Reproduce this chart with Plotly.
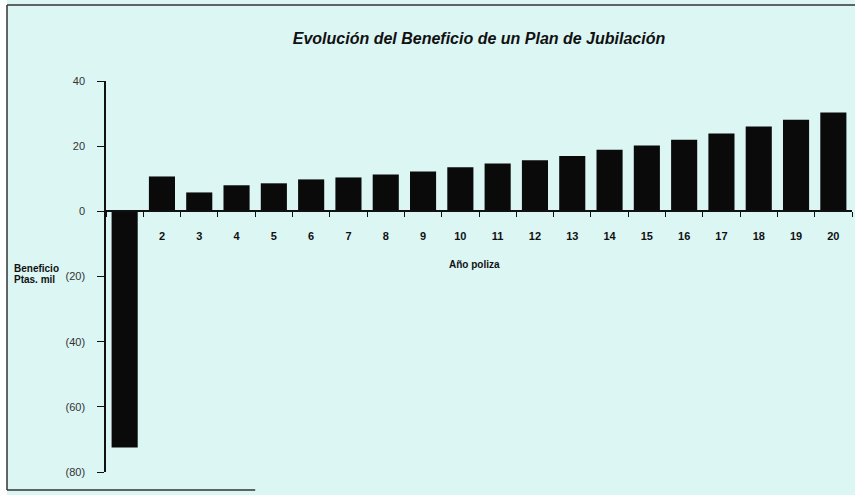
import plotly.graph_objects as go

years = list(range(1, 21))
beneficio = [-72.5, 10.7, 5.8, 8.0, 8.6, 9.8, 10.4, 11.3, 12.2, 13.5,
             14.7, 15.7, 17.0, 18.9, 20.2, 22.0, 23.9, 26.0, 28.1, 30.3]
x_tick_vals = list(range(2, 21))
x_tick_text = [str(v) for v in x_tick_vals]
y_tick_vals = [40, 20, 0, -20, -40, -60, -80]
y_tick_text = ["40", "20", "0", "(20)", "(40)", "(60)", "(80)"]

title_text = "Evolución del Beneficio de un Plan de Jubilación"
x_title = "Año poliza"
y_title_lines = ["Beneficio", "Ptas. mil"]

BG = "#dcf6f4"
FONT = "Liberation Sans"

y_min, y_max = -80, 40

fig = go.Figure()
fig.add_trace(go.Bar(
    x=years, y=beneficio, width=0.7,
    marker=dict(color="#0a0a0a", line=dict(width=0)),
    showlegend=False,
))

fig.update_layout(
    width=855, height=495,
    margin=dict(l=106, r=3, t=81, b=23),
    paper_bgcolor=BG, plot_bgcolor=BG,
    font=dict(family=FONT, color="#111"),
    title=dict(text="<b><i>" + title_text + "</i></b>", x=0.5, xref="paper",
               y=1 - 38 / 495, yanchor="middle",
               font=dict(family=FONT, size=16, color="#111")),
)

fig.update_xaxes(
    range=[0.5, 20.5], anchor="free",
    position=(0 - y_min) / (y_max - y_min),
    showline=True, linecolor="#111", linewidth=1.5,
    showgrid=False, zeroline=False,
    tickmode="array", tickvals=x_tick_vals, ticktext=x_tick_text,
    ticks="", ticklabelstandoff=15,
    tickfont=dict(family=FONT, size=11, color="#111", weight="bold"),
    minor=dict(tick0=0.5, dtick=1, ticks="outside", ticklen=5,
               tickcolor="#111", tickwidth=1.2, showgrid=False),
)

fig.update_yaxes(
    range=[y_min, y_max],
    showline=True, linecolor="#111", linewidth=1.5,
    showgrid=False, zeroline=False,
    tickmode="array", tickvals=y_tick_vals, ticktext=y_tick_text,
    ticks="outside", ticklen=7, tickcolor="#111", tickwidth=1.2,
    ticklabelstandoff=10,
    tickfont=dict(family=FONT, size=11, color="#333"),
)

fig.add_annotation(text="<b>" + x_title + "</b>", xref="paper", yref="paper",
                   x=(474 - 106) / 746, y=(472 - 264) / 391, xanchor="center", yanchor="middle",
                   showarrow=False, font=dict(family=FONT, size=10, color="#111"))
for i, line in enumerate(y_title_lines):
    fig.add_annotation(text="<b>" + line + "</b>", xref="paper", yref="paper",
                       x=(12 - 106) / 746, y=(472 - (268 + 11 * i)) / 391,
                       xanchor="left", yanchor="middle", showarrow=False,
                       font=dict(family=FONT, size=10, color="#111"))

# outer frame (top, left, bottom)
fx0 = (7 - 106) / 746
fy_top = (472 - 5) / 391
fy_bot = (472 - 490) / 391
frame = dict(color="#333", width=1.5)
fig.add_shape(type="rect", xref="paper", yref="paper", x0=-0.2, x1=fx0,
              y0=-0.1, y1=1.3, fillcolor="white", line=dict(width=0), layer="below")
fig.add_shape(type="line", xref="paper", yref="paper", x0=fx0, x1=1.01, y0=fy_top, y1=fy_top, line=frame)
fig.add_shape(type="line", xref="paper", yref="paper", x0=fx0, x1=fx0, y0=fy_bot, y1=fy_top, line=frame)
fig.add_shape(type="line", xref="paper", yref="paper", x0=fx0, x1=0.2, y0=fy_bot, y1=fy_bot, line=frame)

fig.write_html("out.html", config={"displayModeBar": False},
               post_script="document.body.style.margin='0';document.body.style.padding='0';")
